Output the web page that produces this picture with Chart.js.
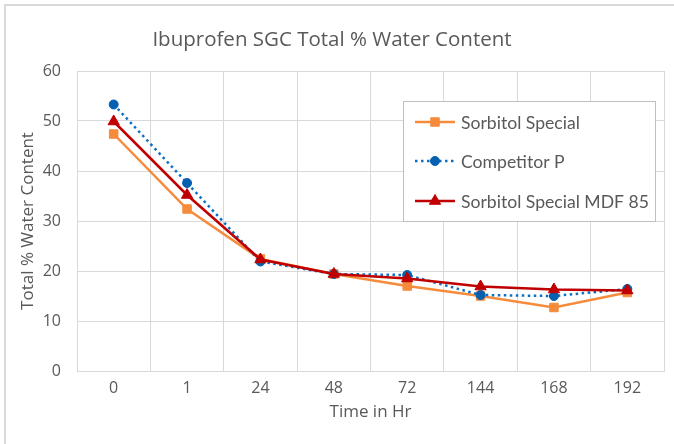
<!DOCTYPE html>
<html>
<head>
<meta charset="utf-8">
<script src="https://cdn.jsdelivr.net/npm/chart.js@4/dist/chart.umd.min.js"></script>
<style>
  html, body { margin: 0; padding: 0; background: #ffffff; }
  #wrap { position: relative; width: 674px; height: 444px; }
</style>
</head>
<body>
<div id="wrap"><canvas id="c" width="674" height="444"></canvas></div>
<script>
// ---- data ----
const categories = ['0', '1', '24', '48', '72', '144', '168', '192'];
const sorbitolSpecial = [47.4, 32.4, 22.4, 19.4, 17.0, 15.0, 12.7, 15.7];
const competitorP = [53.3, 37.6, 21.9, 19.4, 19.2, 15.2, 15.0, 16.4];
const sorbitolMDF85 = [49.9, 35.2, 22.3, 19.4, 18.5, 16.9, 16.3, 16.1];
const seriesNames = ['Sorbitol Special', 'Competitor P', 'Sorbitol Special MDF 85'];
const yTicks = [0, 10, 20, 30, 40, 50, 60];
const chartTitle = 'Ibuprofen SGC Total % Water Content';
const xTitle = 'Time in Hr';
const yTitle = 'Total % Water Content';

const ORANGE = '#F68B3C';
const BLUE_LINE = '#0A70C4';
const BLUE_PT = '#0560B0';
const RED = '#C00000';
const TXT = '#595959';
const GRID = '#D9D9D9';
const FONT = "'Open Sans', sans-serif";
const LEG_FONT = "Lato, 'Open Sans', sans-serif";

const datasets = [
  {
    label: seriesNames[0], data: sorbitolSpecial, order: 3,
    borderColor: ORANGE, backgroundColor: ORANGE, borderWidth: 2.5,
    pointStyle: 'rect', pointRadius: 6, pointBorderColor: ORANGE, pointBackgroundColor: ORANGE,
    pointBorderWidth: 1, tension: 0
  },
  {
    label: seriesNames[1], data: competitorP, order: 2,
    borderColor: BLUE_LINE, backgroundColor: BLUE_PT, borderWidth: 2.5,
    borderDash: [2.5, 3.5],
    pointStyle: 'circle', pointRadius: 4.5, pointBorderColor: BLUE_PT, pointBackgroundColor: BLUE_PT,
    pointBorderWidth: 1, tension: 0
  },
  {
    label: seriesNames[2], data: sorbitolMDF85, order: 1,
    borderColor: RED, backgroundColor: RED, borderWidth: 2.5,
    pointStyle: 'triangle', pointRadius: 6.5, pointBorderColor: RED, pointBackgroundColor: RED,
    pointBorderWidth: 1, tension: 0
  }
];

const framePlugin = {
  id: 'frame',
  beforeDraw(chart) {
    const ctx = chart.ctx;
    ctx.save();
    ctx.fillStyle = '#ffffff';
    ctx.fillRect(0, 0, chart.width, chart.height);
    ctx.fillStyle = GRID;
    ctx.fillRect(4, 4, chart.width - 4, 2);
    ctx.fillRect(4, 4, 2, chart.height - 4);
    ctx.restore();
  }
};

const legendPlugin = {
  id: 'boxLegend',
  afterDraw(chart) {
    const ctx = chart.ctx;
    const bx = 403.5, by = 101.5, bw = 252, bh = 120;
    ctx.save();
    ctx.fillStyle = '#ffffff';
    ctx.fillRect(bx, by, bw, bh);
    ctx.strokeStyle = '#BFBFBF';
    ctx.lineWidth = 1;
    ctx.strokeRect(bx, by, bw, bh);
    const rows = [122, 161, 201];
    chart.data.datasets.forEach((ds, i) => {
      const y = rows[i];
      ctx.save();
      ctx.strokeStyle = ds.borderColor;
      ctx.lineWidth = ds.borderWidth;
      ctx.setLineDash(ds.borderDash || []);
      ctx.beginPath();
      ctx.moveTo(415, y);
      ctx.lineTo(455, y);
      ctx.stroke();
      ctx.restore();
      ctx.fillStyle = ds.pointBackgroundColor;
      ctx.strokeStyle = ds.pointBorderColor;
      ctx.lineWidth = 1;
      ctx.setLineDash([]);
      Chart.helpers.drawPoint(ctx, {
        pointStyle: ds.pointStyle, radius: ds.pointRadius, rotation: 0, borderWidth: 1
      }, 435, y);
      ctx.fillStyle = TXT;
      ctx.font = '17.6px ' + LEG_FONT;
      ctx.textBaseline = 'middle';
      ctx.textAlign = 'left';
      ctx.fillText(ds.label, 461, y + 1);
    });
    ctx.restore();
  }
};

new Chart(document.getElementById('c'), {
  type: 'line',
  data: { labels: categories, datasets: datasets },
  options: {
    responsive: false,
    animation: false,
    devicePixelRatio: 1,
    layout: { padding: { left: 0, right: 10, top: 0, bottom: 0 } },
    plugins: {
      legend: { display: false },
      tooltip: { enabled: false },
      title: {
        display: true, text: chartTitle, color: TXT,
        font: { family: FONT, size: 20.5, weight: 'normal', lineHeight: 1.2 },
        padding: { top: 28, bottom: 18.4 }
      }
    },
    scales: {
      x: {
        type: 'category',
        offset: true,
        grid: { offset: true, color: GRID, lineWidth: 1, drawTicks: false },
        border: { color: GRID, width: 1 },
        ticks: { color: TXT, font: { family: FONT, size: 16 }, padding: 8, maxRotation: 0, autoSkip: false },
        title: { display: true, text: xTitle, color: TXT, font: { family: FONT, size: 17, lineHeight: 1.2 }, padding: { top: 0, bottom: 22 } },
        afterFit(scale) { scale.height = 73; }
      },
      y: {
        min: 0, max: 60,
        afterBuildTicks(scale) { scale.ticks = yTicks.map(v => ({ value: v })); },
        grid: { color: GRID, lineWidth: 1, drawTicks: false },
        border: { color: GRID, width: 1 },
        ticks: { color: TXT, font: { family: FONT, size: 16 }, padding: 16 },
        title: { display: true, text: yTitle, color: TXT, font: { family: FONT, size: 17, lineHeight: 1.2 }, padding: { top: 18, bottom: 0 } },
        afterFit(scale) { scale.width = 77; }
      }
    }
  },
  plugins: [framePlugin, legendPlugin]
});
</script>
</body>
</html>
